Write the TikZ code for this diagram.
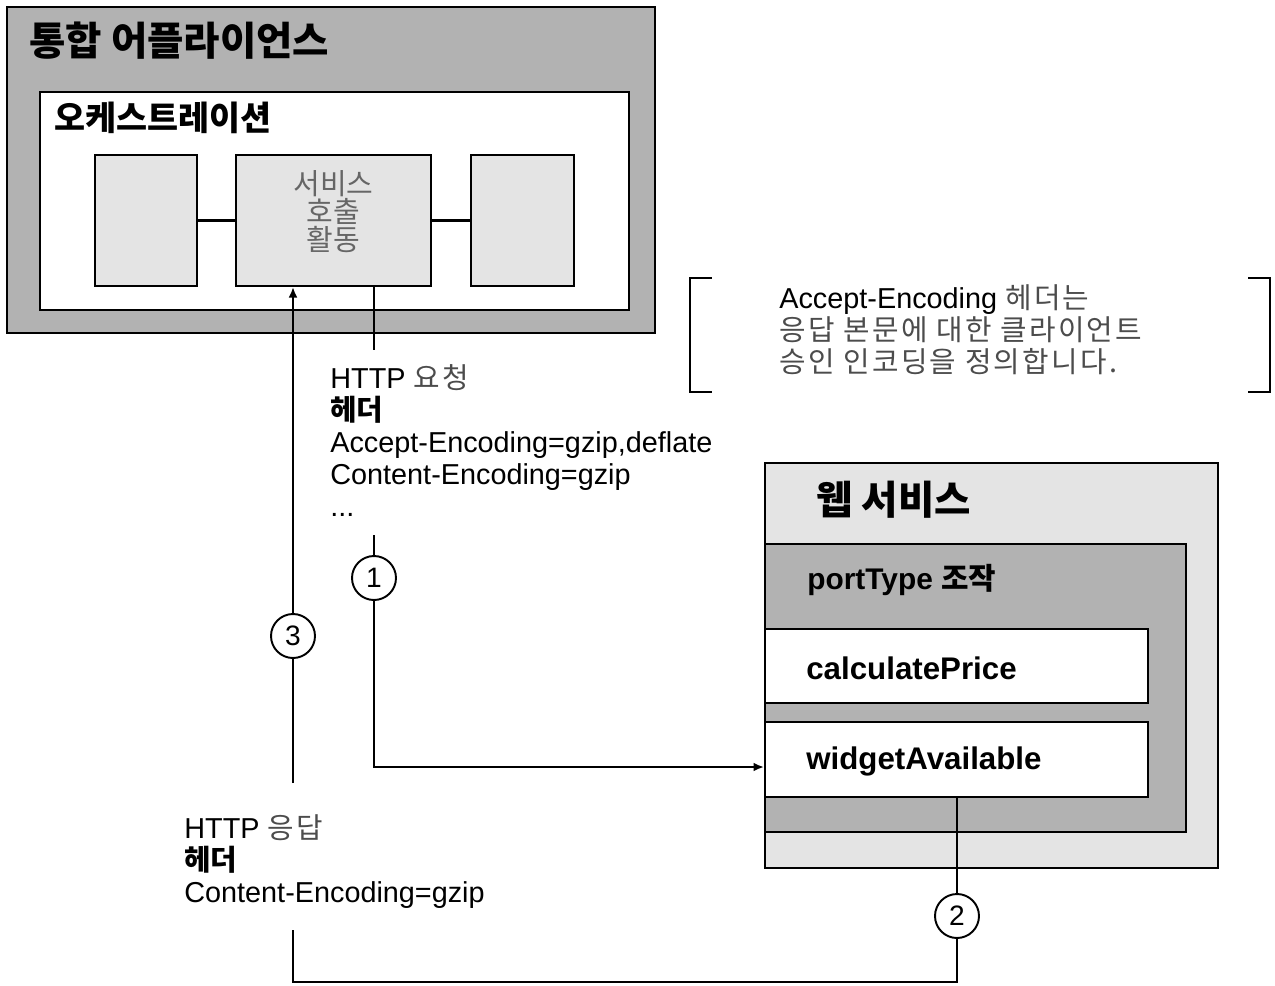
\documentclass[tikz,border=0pt]{standalone}
\usepackage{fontspec}
\setmainfont{Liberation Sans}
\newfontfamily\krfont{Noto Sans CJK KR}
\newfontfamily\krwide[LetterSpace=8]{Noto Sans CJK KR}
\usepackage{xcolor}
\usetikzlibrary{arrows.meta, positioning, calc}

\definecolor{appgray}{HTML}{B2B2B2}
\definecolor{boxgray}{HTML}{E4E4E4}
\definecolor{actgray}{HTML}{666666}
\newcommand{\kr}[1]{{\krfont #1}}
\newcommand{\krl}[1]{{\krwide\color{black!70}#1}}

\begin{document}
\begin{tikzpicture}[
    x=0.02cm, y=-0.02cm,
    every node/.style={inner sep=0pt},
    box/.style={draw, line width=1.1pt, rectangle},
    appbox/.style={box, fill=appgray},
    whitebox/.style={box, fill=white},
    stepbox/.style={box, fill=boxgray, minimum height=2.62cm},
    wsbox/.style={box, fill=boxgray},
    opbox/.style={box, fill=white, minimum width=7.66cm, minimum height=1.49cm},
    conn/.style={draw, line width=1.2pt},
    arr/.style={-{Latex[length=6pt, width=5pt]}},
    num/.style={draw, circle, line width=1.1pt, fill=white, minimum size=0.88cm, font=\fontsize{16}{18}\selectfont},
    bigtitle/.style={anchor=west, font=\krfont\fontsize{22.5}{26}\selectfont\bfseries},
    midtitle/.style={anchor=west, font=\krfont\fontsize{19.2}{22}\selectfont\bfseries},
    optext/.style={anchor=west, font=\fontsize{17.8}{20}\selectfont\bfseries},
    txt/.style={align=left, font=\fontsize{16.4}{18.2}\selectfont}
]
    \useasboundingbox (0,0) rectangle (1275,985);

    % integration appliance
    \node[appbox, minimum width=12.96cm, minimum height=6.52cm] (app) at (331,170) {};
    \node[bigtitle] (apptitle) at (29,41) {통합 어플라이언스};
    \node[whitebox, minimum width=11.78cm, minimum height=4.36cm] (orch) at (334.5,201) {};
    \node[midtitle] (orchtitle) at (54,118) {오케스트레이션};
    \node[stepbox, minimum width=2.04cm] (prev) at (146,220.5) {};
    \node[stepbox, minimum width=3.9cm] (act) at (333.5,220.5) {};
    \node[stepbox, minimum width=2.06cm] (next) at (522.5,220.5) {};
    \node[align=center, text=actgray, font=\krfont\fontsize{16.5}{16}\selectfont] (acttext) at (333.5,212) {서비스\\호출\\활동};
    \draw[conn] (prev) -- (act);
    \draw[conn] (act) -- (next);

    % web service
    \node[wsbox, minimum width=9.06cm, minimum height=8.1cm] (ws) at (991.5,665.5) {};
    \node[bigtitle] (wstitle) at (816,500) {웹 서비스};
    \node[appbox, minimum width=8.42cm, minimum height=5.76cm] (pt) at (975.5,688) {};
    \node[anchor=west, font=\fontsize{17}{19}\selectfont\bfseries] (pttitle) at (807,580) {portType \kr{조작}};
    \node[opbox] (cp) at (956.5,666) {};
    \node[optext] (cptext) at (806,668) {calculatePrice};
    \node[opbox] (wa) at (956.5,759.5) {};
    \node[optext] (watext) at (806,761) {widgetAvailable};

    % note
    \node[minimum width=11.6cm, minimum height=2.28cm] (brk) at (980,335) {};
    \draw[conn] ($(brk.north west)+(22,0)$) -- (brk.north west) -- (brk.south west) -- ++(22,0);
    \draw[conn] ($(brk.north east)+(-22,0)$) -- (brk.north east) -- (brk.south east) -- ++(-22,0);
    \node[txt, anchor=west] (note) at (779,330) {Accept-Encoding \krl{헤더는}\\\krl{응답 본문에 대한 클라이언트}\\\krl{승인 인코딩을 정의합니다.}};

    % request
    \node[txt, anchor=north west] (req) at (330,364) {HTTP \krl{요청}\\\kr{\bfseries 헤더}\\Accept-Encoding=gzip,deflate\\Content-Encoding=gzip\\...};
    \node[num] (c1) at (374,578) {1};
    \coordinate (reqtop) at (374,350);
    \coordinate (reqbot) at (374,535);
    \draw[conn] (act.south -| reqtop) -- (reqtop);
    \draw[conn] (reqbot) -- (c1);
    \draw[conn, arr] (c1) |- ($(wa.west)+(0,7.5)$);

    % response
    \node[num] (c2) at (957,916) {2};
    \node[num] (c3) at (293,636) {3};
    \node[txt, anchor=north west] (resp) at (184,814) {HTTP \krl{응답}\\\kr{\bfseries 헤더}\\Content-Encoding=gzip};
    \coordinate (resptop) at (293,783);
    \coordinate (respbot) at (293,930);
    \coordinate (low) at (0,982);
    \draw[conn] (wa.south -| c2) -- (c2);
    \draw[conn] (c2) -- (c2 |- low) -| (respbot);
    \draw[conn] (resptop) -- (c3);
    \draw[conn, arr] (c3) -- (act.south -| c3);
\end{tikzpicture}
\end{document}
